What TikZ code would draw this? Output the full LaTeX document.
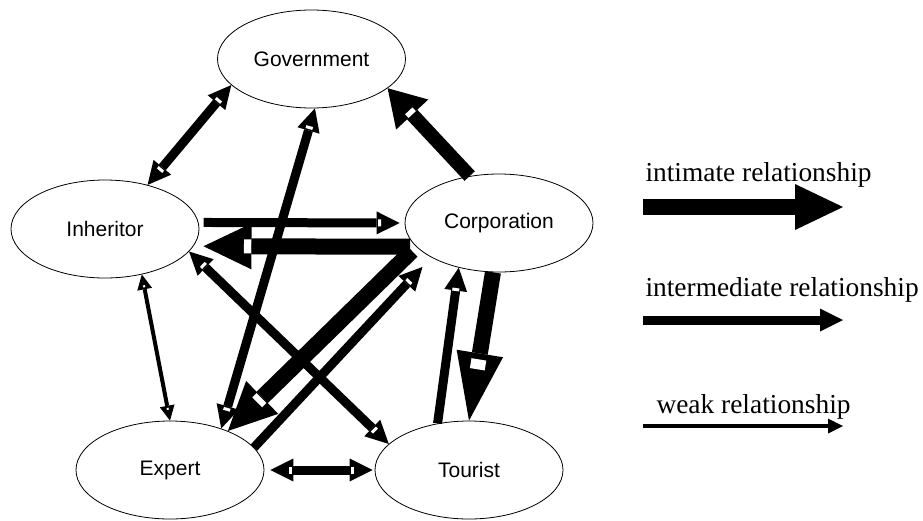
\documentclass[tikz,border=0pt]{standalone}
\usepackage{fontspec}
\setmainfont{Liberation Serif}
\setsansfont{Liberation Sans}
\usetikzlibrary{arrows.meta,shapes.geometric,decorations.markings}
\tikzset{
  actor/.style={ellipse, draw=black, line width=0.8pt, inner sep=0pt,
    minimum width=188pt, minimum height=98pt,
    font=\sffamily\fontsize{21}{25}\selectfont},
  intimate/.style={line width=16pt, >={Triangle[length=48pt,width=46pt,line width=0pt]}},
  intermed/.style={line width=9pt, >={Triangle[length=23pt,width=23pt,line width=0pt]}},
  weak/.style={line width=4pt, >={Triangle[length=15pt,width=15pt,line width=0pt]}},
  tipmark/.style args={#1/#2/#3}{postaction={decorate,decoration={markings,
    mark=at position #1 with {\fill[white] (-#2,-#3) rectangle (#2,#3);}}}},
  keytext/.style={anchor=base west, font=\fontsize{27.4}{32}\selectfont}
}

\begin{document}
\begin{tikzpicture}[x=1pt,y=-1pt]
  \useasboundingbox (0,0) rectangle (923,520);
  \node[actor] (gov) at (311.5,59) {Government};
  \node[actor] (inh) at (105,229) {Inheritor};
  \node[actor] (corp) at (499,223) {Corporation};
  \node[actor] (exp) at (170,470) {Expert};
  \node[actor] (tour) at (469,470) {Tourist};

  \draw[intermed,<->,tipmark=20pt/1.5pt/3.5pt,tipmark=-20pt/1.5pt/3.5pt] (gov.198) -- (inh.46);
  \draw[intermed,<->,tipmark=20pt/1.5pt/3.5pt,tipmark=-20pt/1.5pt/3.5pt] (gov.274) -- (exp.39);
  \draw[intimate,line width=14pt,>={Triangle[length=36pt,width=44pt,line width=0pt]},->,tipmark=-33pt/2.5pt/5pt] (corp.122) -- (gov.339);
  \draw[intermed,->,shorten <=5pt,shorten >=5pt,tipmark=-25pt/1.5pt/3.5pt] (inh.4) -- (corp.180);
  \draw[intimate,->,shorten <=6pt,shorten >=10pt,tipmark=-54pt/3.5pt/7pt] (corp.196) -- (inh.349);
  \draw[intimate,->,shorten <=6pt,tipmark=-44pt/3pt/7pt] (corp.196) -- (exp.34);
  \draw[intermed,->,shorten >=13pt,tipmark=-33pt/1.5pt/3.5pt] (exp.15) -- (corp.207);
  \draw[intermed,<->,tipmark=20pt/1.5pt/3.5pt,tipmark=-20pt/1.5pt/3.5pt] (inh.345) -- (tour.162);
  \draw[weak,<->,tipmark=12pt/1pt/1pt,tipmark=-12pt/1pt/1pt] (inh.309) -- (exp.90);
  \draw[intermed,<->,shorten <=6pt,shorten >=2pt,tipmark=26pt/1.5pt/3.5pt,tipmark=-22pt/1.5pt/3.5pt] (exp.0) -- (tour.180);
  \draw[intermed,->,tipmark=-22pt/1.5pt/3.5pt] (tour.124) -- (corp.228);
  \draw[intimate,>={Triangle[length=68pt,width=47pt,line width=0pt]},->,tipmark=-57pt/5pt/7.5pt] (corp.263) -- (tour.90);

  \coordinate (k1s) at (643,207); \coordinate (k1e) at (843,207);
  \coordinate (k2s) at (643,320); \coordinate (k2e) at (843,320);
  \coordinate (k3s) at (643,426); \coordinate (k3e) at (843,426);
  \node[keytext] (k1) at (642,181) {intimate relationship};
  \node[keytext] (k2) at (642,296) {intermediate relationship};
  \node[keytext] (k3) at (653,413) {weak relationship};
  \draw[intimate,->] (k1s) -- (k1e);
  \draw[intermed,->] (k2s) -- (k2e);
  \draw[weak,->] (k3s) -- (k3e);
\end{tikzpicture}
\end{document}
